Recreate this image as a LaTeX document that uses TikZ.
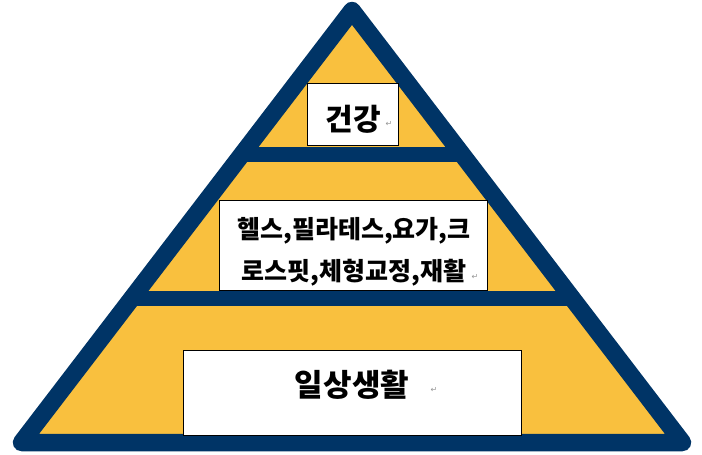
\documentclass[tikz,border=0pt]{standalone}
\usepackage{fontspec}
\newfontfamily\kr{Noto Sans CJK KR}
\newfontfamily\dvs{DejaVu Sans}
\usetikzlibrary{calc}
\definecolor{navy}{RGB}{0,52,102}
\definecolor{pyellow}{RGB}{249,192,62}
\definecolor{markgray}{RGB}{150,150,150}
\tikzset{
  outline/.style={draw=navy, line width=17.5pt, line join=round},
  band/.style={draw=navy, line width=15pt},
  wbox/.style={draw=black, line width=1pt, fill=white, inner sep=0pt},
  txt/.style={inner sep=0pt, text=black},
  retmark/.style={inner sep=0pt, text=markgray, font=\dvs\fontsize{8}{8}\selectfont}
}
\begin{document}
\begin{tikzpicture}[x=1pt,y=-1pt]
\useasboundingbox (0,0) rectangle (702,455);
\coordinate (A) at (352,10.5);
\coordinate (L) at (21.5,442.5);
\coordinate (R) at (682.5,442.5);
\fill[pyellow] (A) -- (L) -- (R) -- cycle;
\coordinate (b1l) at ($(A)!0.3333!(L)$);
\coordinate (b1r) at ($(A)!0.3333!(R)$);
\coordinate (b2l) at ($(A)!0.6667!(L)$);
\coordinate (b2r) at ($(A)!0.6667!(R)$);
\draw[band] (b1l) -- (b1r);
\draw[band] (b2l) -- (b2r);
\draw[outline] (A) -- (L) -- (R) -- cycle;
% boxes
\node[wbox, minimum width=91pt, minimum height=62pt] (box1) at (352.8,114.2) {};
\node[wbox, minimum width=268pt, minimum height=90pt] (box2) at (353.3,245.7) {};
\node[wbox, minimum width=338pt, minimum height=84.5pt] (box3) at (352.5,393) {};
% texts
\node[txt, font=\kr\bfseries\fontsize{30}{30}\selectfont] (t1) at (353,119) {건강};
\node[retmark] (r1) at (389,124) {↵};
\node[txt, align=center, font=\kr\bfseries\fontsize{25}{42}\selectfont] (t2) at (354,252) {헬스,필라테스,요가,크\\로스핏,체형교정,재활};
\node[retmark] (r2) at (475,277) {↵};
\node[txt, font=\kr\bfseries\fontsize{31}{31}\selectfont] (t3) at (352,385) {일상생활};
\node[retmark] (r3) at (434,390) {↵};
\end{tikzpicture}
\end{document}
